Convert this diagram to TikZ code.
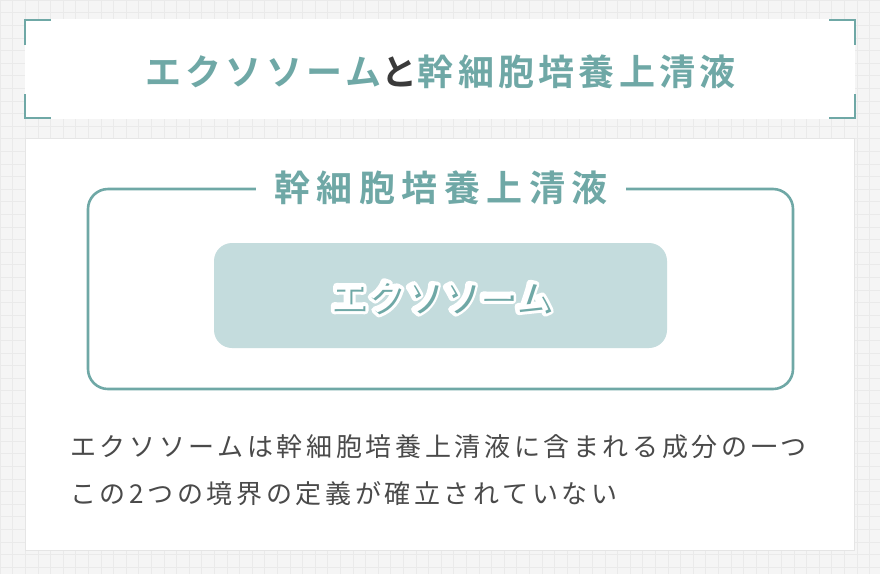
\documentclass[tikz,border=0pt]{standalone}
\usepackage{fontspec}
\usepackage{xcolor}
\usetikzlibrary{calc}
\newfontfamily\cjk{Noto Sans CJK JP}
\newfontfamily\cjkbold{Noto Sans CJK JP Bold}
\definecolor{teal1}{HTML}{6FA8A6}
\definecolor{tealfill}{HTML}{C4DCDD}
\definecolor{ink}{HTML}{4A4A4A}
\definecolor{inkdark}{HTML}{3A3A3A}
\definecolor{paper}{HTML}{F5F5F5}
\definecolor{gridgray}{HTML}{EAEAEA}
% white outline round a text (fill and stroke)
\newcommand\halotext[1]{\special{pdf:literal direct 2 Tr 7 w 1 j}#1\special{pdf:literal direct 0 Tr 1 w 0 j}}
\tikzset{
  gridline/.style={draw=gridgray, line width=0.6pt},
  bracket/.style={draw=teal1, line width=2pt},
  frameline/.style={draw=teal1, line width=2.6pt},
  headtxt/.style={inner sep=0pt, anchor=west, font=\cjkbold\fontsize{36}{40}\selectfont\addfontfeature{LetterSpace=12}},
  labeltxt/.style={inner sep=0pt, text=teal1, font=\cjkbold\fontsize{36}{40}\selectfont\addfontfeature{LetterSpace=18}},
  coretxt/.style={inner sep=0pt, font=\cjkbold\fontsize{36}{40}\selectfont\addfontfeature{LetterSpace=3}},
  bodytxt/.style={inner sep=0pt, anchor=west, text=ink, font=\cjk\fontsize{26}{30}\selectfont\addfontfeature{LetterSpace=14}}
}
\begin{document}
\begin{tikzpicture}[x=1pt,y=-1pt]
\useasboundingbox (0,0) rectangle (880,574);
\fill[paper] (0,0) rectangle (880,574);
\foreach \i in {0,...,70}
    \draw[gridline] (\i*12.6,0) -- (\i*12.6,574);
\foreach \i in {0,...,46}
    \draw[gridline] (0,\i*12.6) -- (880,\i*12.6);

% header
\fill[white] (25,19) rectangle (855,119);
\draw[bracket] (25,45) -- (25,20) -- (51,20);
\draw[bracket] (25,94) -- (25,118) -- (51,118);
\draw[bracket] (829,20) -- (855,20) -- (855,45);
\draw[bracket] (829,118) -- (855,118) -- (855,94);
\node[headtxt] (title) at (145,72)
    {\textcolor{teal1}{エクソソーム}\textcolor{inkdark}{と}\textcolor{teal1}{幹細胞培養上清液}};

% panel
\fill[black!10] (25,138) rectangle (855,551);
\fill[white] (26,139) rectangle (854,550);
\node[labeltxt, minimum width=370pt] (label) at (441,188) {幹細胞培養上清液};
\draw[frameline, rounded corners=20pt]
    (label.east |- 0,189) -- (793,189) -- (793,389) -- (88,389) -- (88,189) -- (label.west |- 0,189);

% core
\node[fill=tealfill, rounded corners=18pt, minimum width=453pt, minimum height=105pt] (core) at (440.5,295.5) {};
\node[coretxt, text=white] (halo) at ($(core)+(1.3,2.3)$) {\halotext{エクソソーム}};
\node[coretxt, text=teal1] (shade) at ($(core)+(2.6,3.6)$) {エクソソーム};
\node[coretxt, text=white] (coretext) at ($(core)+(0,1)$) {エクソソーム};

% body
\node[bodytxt] (line1) at (70,447) {エクソソームは幹細胞培養上清液に含まれる成分の一つ};
\node[bodytxt] (line2) at (70,494) {この2つの境界の定義が確立されていない};
\end{tikzpicture}
\end{document}
